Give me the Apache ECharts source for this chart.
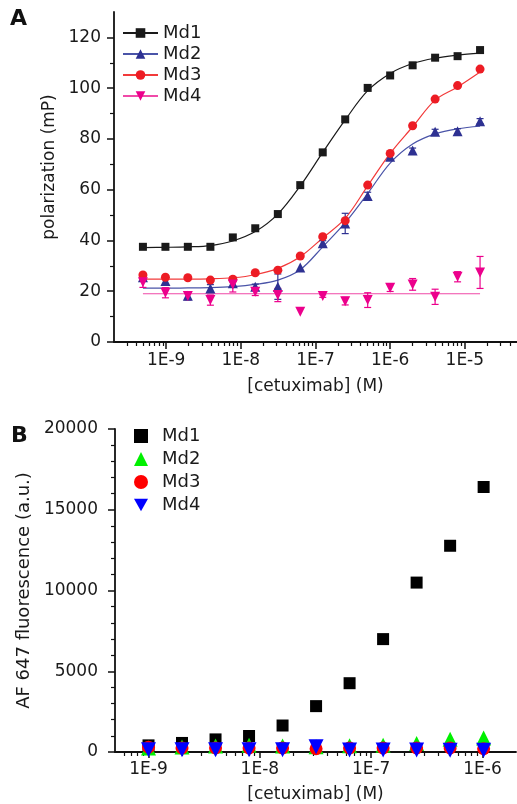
<!DOCTYPE html>
<html><head><meta charset="utf-8">
<script src="https://cdn.jsdelivr.net/npm/echarts@6/dist/echarts.min.js"></script>
<style>html,body{margin:0;padding:0;background:#fff}#c{width:517px;height:804px}</style>
</head><body><div id="c"></div>
<script>
// ---------- Panel A data ----------
const concA = [4.88e-10, 9.77e-10, 1.95e-9, 3.91e-9, 7.81e-9, 1.56e-8, 3.13e-8, 6.25e-8, 1.25e-7, 2.5e-7, 5e-7, 1e-6, 2e-6, 4e-6, 8e-6, 1.6e-5];
const md1A = [37.5, 37.5, 37.5, 37.5, 41.2, 44.8, 50.4, 61.8, 74.7, 87.7, 100.1, 105, 109, 112, 112.6, 115];
const md2A = [25.5, 24, 18.2, 21.1, 23.1, 21.8, 21.8, 29.3, 38.9, 46.7, 57.5, 73, 75.4, 82.8, 83, 87];
const md3A = [26.4, 25.5, 25.3, 24.4, 24.7, 27.3, 28.3, 33.9, 41.5, 47.8, 61.8, 74.3, 85.2, 95.7, 101, 107.5];
const md4A = [23.5, 19.4, 18.1, 16.5, 22.7, 19.8, 18.5, 11.9, 18.1, 16.1, 16.5, 21.4, 22.7, 17.8, 25.7, 27.4];
const md2ErrA = [1.5, 1.5, 1.5, 1.5, 1.5, 1, 5, 0, 1, 4, 1.5, 1, 1, 1, 1, 1];
const md4ErrA = [2, 2, 1.5, 2, 3, 1.5, 2.6, 0, 0.5, 1.5, 2.9, 1.5, 2.3, 3, 2, 6.3];
// fitted curves at each concentration
const fit1A = [37.2, 37.3, 37.5, 38, 39.8, 43.5, 50.4, 61.5, 74.7, 87.5, 99, 105.8, 109.7, 111.8, 113, 113.8];
const fit2A = [21.2, 21.2, 21.3, 21.4, 21.8, 22.7, 24.4, 28.5, 37.5, 47, 58.5, 70.5, 78, 82, 84, 85];
const fit3A = [24.8, 24.8, 24.8, 24.9, 25.3, 26.5, 29, 33.6, 41, 48.7, 61.5, 74.3, 84.8, 95.3, 100.5, 106.4];
const fit4A = [19, 19, 19, 19, 19, 19, 19, 19, 19, 19, 19, 19, 19, 19, 19, 19];
const yTicksA = [0, 20, 40, 60, 80, 100, 120];
const yMinorA = [10, 30, 50, 70, 90, 110];
const xTicksA = [1e-9, 1e-8, 1e-7, 1e-6, 1e-5];

// ---------- Panel B data ----------
const concB = [1e-9, 2e-9, 4e-9, 8e-9, 1.6e-8, 3.2e-8, 6.4e-8, 1.28e-7, 2.56e-7, 5.12e-7, 1.024e-6];
const md1B = [410, 560, 780, 990, 1640, 2840, 4260, 6990, 10490, 12770, 16410];
const md2B = [250, 310, 375, 420, 375, 330, 380, 420, 520, 790, 870];
const md3B = [300, 250, 250, 250, 250, 200, 250, 250, 250, 250, 200];
const md4B = [140, 140, 140, 140, 140, 330, 130, 130, 120, 110, 110];
const xTicksB = [1e-9, 1e-8, 1e-7, 1e-6];

const names = ['Md1', 'Md2', 'Md3', 'Md4'];

function minorLog(lo, hi) {
  const out = [];
  for (let e = -11; e <= -3; e++) {
    for (let m = 2; m <= 9; m++) {
      const v = m * Math.pow(10, e);
      if (v > lo * 1.0001 && v < hi * 0.9999) out.push(v);
    }
  }
  return out;
}
const FONT = 'DejaVu Sans';
const fmtE = v => '1E' + Math.round(Math.log10(v));

const chart = echarts.init(document.getElementById('c'), null, {renderer: 'canvas'});

function pairs(xs, ys) { return xs.map((x, i) => [x, ys[i]]); }
function errSeries(xs, ys, es, color, xi, yi) {
  const data = [];
  xs.forEach((x, i) => { if (es[i] > 0) data.push([x, ys[i] - es[i], ys[i] + es[i]]); });
  return {
    type: 'custom', xAxisIndex: xi, yAxisIndex: yi, z: 3, silent: true,
    data: data, encode: {x: 0, y: [1, 2]},
    renderItem: function (params, api) {
      const lo = api.coord([api.value(0), api.value(1)]);
      const hi = api.coord([api.value(0), api.value(2)]);
      const w = 3.5;
      const st = {stroke: color, lineWidth: 1.2};
      return {type: 'group', children: [
        {type: 'line', shape: {x1: lo[0], y1: lo[1], x2: hi[0], y2: hi[1]}, style: st},
        {type: 'line', shape: {x1: lo[0] - w, y1: lo[1], x2: lo[0] + w, y2: lo[1]}, style: st},
        {type: 'line', shape: {x1: hi[0] - w, y1: hi[1], x2: hi[0] + w, y2: hi[1]}, style: st}
      ]};
    }
  };
}

const colA = ['#1a1a1a', '#2e3192', '#ed1c24', '#ec008c'];
const lineColA = ['#1a1a1a', '#4a54a8', '#f23a3a', '#f04aa8'];
const downTri = 'path://M0,0 L10,0 L5,9 Z';
const symA = ['rect', 'triangle', 'circle', downTri];
const symSizeA = [8, 10, 9, 10];
const valsA = [md1A, md2A, md3A, md4A];
const fitsA = [fit1A, fit2A, fit3A, fit4A];

const colB = ['#000000', '#00f000', '#ff0000', '#0000ff'];
const symB = ['rect', 'triangle', 'circle', downTri];
const symSizeB = [12, 15, 13, 15];
const valsB = [md1B, md2B, md3B, md4B];

const series = [];
names.forEach((n, i) => {
  series.push({
    name: n, type: 'line', xAxisIndex: 0, yAxisIndex: 0, z: 2,
    data: pairs(concA, fitsA[i]), smooth: 0.35, showSymbol: false,
    symbol: symA[i], symbolSize: symSizeA[i],
    itemStyle: {color: colA[i], opacity: 1}, lineStyle: {color: lineColA[i], width: 1.2}
  });
});
series.push(errSeries(concA, md2A, md2ErrA, colA[1], 0, 0));
series.push(errSeries(concA, md4A, md4ErrA, colA[3], 0, 0));
names.forEach((n, i) => {
  series.push({
    name: n + ' (A)', type: 'scatter', xAxisIndex: 0, yAxisIndex: 0, z: 4,
    data: pairs(concA, valsA[i]), symbol: symA[i], symbolSize: symSizeA[i],
    itemStyle: {color: colA[i], opacity: 1}
  });
});
names.forEach((n, i) => {
  series.push({
    name: n + ' ', type: 'scatter', xAxisIndex: 2, yAxisIndex: 2, z: 4,
    data: pairs(concB, valsB[i]), symbol: symB[i], symbolSize: symSizeB[i],
    itemStyle: {color: colB[i], opacity: 1}
  });
});

const axisLine = {show: true, lineStyle: {color: '#111', width: 1.8}};
const labelStyle = {color: '#1a1a1a', fontFamily: FONT, fontSize: 17};

const option = {
  animation: false,
  backgroundColor: '#fff',
  grid: [
    {left: 114, right: 0, top: 12, height: 330},
    {left: 115, right: 1, top: 429, height: 324}
  ],
  xAxis: [
    {gridIndex: 0, type: 'log', logBase: 10, min: 2e-10, max: 5e-5, position: 'bottom',
     name: '[cetuximab] (M)', nameLocation: 'middle', nameGap: 36,
     nameTextStyle: {fontFamily: FONT, fontSize: 17, color: '#1a1a1a'},
     axisLine: axisLine,
     axisTick: {show: true, inside: false, length: 7, customValues: xTicksA, lineStyle: {color: '#111', width: 1.5}},
     axisLabel: {show: true, customValues: xTicksA, formatter: fmtE, margin: 10, ...labelStyle},
     splitLine: {show: false}},
    {gridIndex: 0, type: 'log', logBase: 10, min: 2e-10, max: 5e-5, position: 'bottom', offset: 0,
     axisLine: {show: false},
     axisTick: {show: true, length: 4, customValues: minorLog(2e-10, 5e-5), lineStyle: {color: '#111', width: 1.2}},
     axisLabel: {show: false}, splitLine: {show: false}},
    {gridIndex: 1, type: 'log', logBase: 10, min: 5e-10, max: 2e-6, position: 'bottom',
     name: '[cetuximab] (M)', nameLocation: 'middle', nameGap: 34,
     nameTextStyle: {fontFamily: FONT, fontSize: 17, color: '#1a1a1a'},
     axisLine: axisLine,
     axisTick: {show: true, length: 6, customValues: xTicksB, lineStyle: {color: '#111', width: 1.5}},
     axisLabel: {show: true, customValues: xTicksB, formatter: fmtE, margin: 9, ...labelStyle},
     splitLine: {show: false}},
    {gridIndex: 1, type: 'log', logBase: 10, min: 5e-10, max: 2e-6, position: 'bottom', offset: 0,
     axisLine: {show: false},
     axisTick: {show: true, length: 4, customValues: minorLog(5e-10, 2e-6), lineStyle: {color: '#111', width: 1.2}},
     axisLabel: {show: false}, splitLine: {show: false}}
  ],
  yAxis: [
    {gridIndex: 0, type: 'value', min: 0, max: 130, position: 'left',
     name: 'polarization (mP)', nameLocation: 'middle', nameGap: 50,
     nameTextStyle: {fontFamily: FONT, fontSize: 17, color: '#1a1a1a', padding: [0, 0, 0, 20]},
     axisLine: axisLine,
     axisTick: {show: true, length: 7, customValues: yTicksA, lineStyle: {color: '#111', width: 1.5}},
     axisLabel: {show: true, customValues: yTicksA, margin: 13, ...labelStyle},
     splitLine: {show: false}},
    {gridIndex: 0, type: 'value', min: 0, max: 130, position: 'left', offset: 0,
     axisLine: {show: false},
     axisTick: {show: true, length: 4, customValues: yMinorA, lineStyle: {color: '#111', width: 1.2}},
     axisLabel: {show: false}, splitLine: {show: false}},
    {gridIndex: 1, type: 'value', min: 0, max: 20000, interval: 5000, position: 'left',
     name: 'AF 647 fluorescence (a.u.)', nameLocation: 'middle', nameGap: 74,
     nameTextStyle: {fontFamily: FONT, fontSize: 18, color: '#1a1a1a'},
     axisLine: axisLine,
     axisTick: {show: true, length: 7, lineStyle: {color: '#111', width: 1.5}},
     minorTick: {show: true, splitNumber: 5, length: 4, lineStyle: {color: '#111', width: 1.2}},
     axisLabel: {show: true, margin: 17, formatter: v => String(v), ...labelStyle},
     splitLine: {show: false}}
  ],
  legend: [
    {data: names, orient: 'vertical', left: 122, top: 24, padding: 0,
     itemWidth: 35, itemHeight: 12, itemGap: 3,
     textStyle: {fontFamily: FONT, fontSize: 18, color: '#1a1a1a', lineHeight: 18}},
    {data: names.map(n => n + ' '), orient: 'vertical', left: 134, top: 427, padding: 0,
     itemWidth: 14, itemHeight: 14, itemGap: 5, selectedMode: false,
     formatter: n => n.trim(),
     textStyle: {fontFamily: FONT, fontSize: 18, color: '#1a1a1a', lineHeight: 18, padding: [0, 0, 0, 9]}}
  ],
  graphic: [
    {type: 'text', left: 10, top: 8, style: {text: 'A', font: 'bold 22px ' + FONT, fill: '#111'}},
    {type: 'text', left: 11, top: 425, style: {text: 'B', font: 'bold 22px ' + FONT, fill: '#111'}}
  ],
  series: series
};
chart.setOption(option);
</script></body></html>
